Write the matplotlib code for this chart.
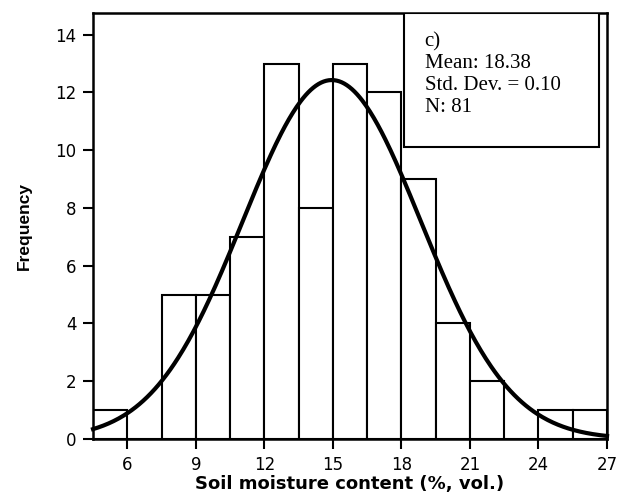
import numpy as np
import matplotlib
matplotlib.use('Agg')
import matplotlib.pyplot as plt
from matplotlib.patches import Rectangle

# histogram bins (soil moisture, % vol.) and counts
bin_edges = [4.5, 6, 7.5, 9, 10.5, 12, 13.5, 15, 16.5, 18, 19.5, 21, 22.5, 24, 25.5, 27]
counts = [1, 0, 5, 5, 7, 13, 8, 13, 12, 9, 4, 2, 0, 1, 1]

# fitted normal curve parameters (estimated from the drawn curve)
curve_mean = 14.95
curve_sd = 3.9
n_obs = 81

x_ticks = [6, 9, 12, 15, 18, 21, 24, 27]
y_ticks = [0, 2, 4, 6, 8, 10, 12, 14]
stats_lines = ["c)", "Mean: 18.38", "Std. Dev. = 0.10", "N: 81"]

plt.rcParams['font.family'] = ['DejaVu Sans']

fig = plt.figure(figsize=(6.21, 4.93), dpi=100)
ax = fig.add_axes([0.1498, 0.1095, 0.8277, 0.8641])

widths = np.diff(bin_edges)
ax.bar(bin_edges[:-1], counts, width=widths, align='edge',
       facecolor='white', edgecolor='black', linewidth=1.5, zorder=2)

bw = widths[0]
xs = np.linspace(bin_edges[0], bin_edges[-1], 400)
ys = n_obs * bw / (curve_sd * np.sqrt(2 * np.pi)) * np.exp(-0.5 * ((xs - curve_mean) / curve_sd) ** 2)
ax.plot(xs, ys, color='black', linewidth=3, zorder=3, clip_on=False)

ax.set_xlim(bin_edges[0], bin_edges[-1])
ax.set_ylim(0, 14.75)
ax.set_xticks(x_ticks)
ax.set_yticks(y_ticks)
ax.tick_params(direction='out', length=7, width=1.5, labelsize=12, pad=5)
for s in ax.spines.values():
    s.set_linewidth(1.8)

ax.set_xlabel("Soil moisture content (%, vol.)", fontsize=13, fontweight='bold', labelpad=1)
ax.set_ylabel("Frequency", fontsize=12.5, fontweight='bold', labelpad=17,
              family=['Liberation Sans Narrow', 'Liberation Sans', 'DejaVu Sans'])

# stats box in the upper right
box = Rectangle((0.605, 0.685), 0.379, 0.315, transform=ax.transAxes,
                facecolor='white', edgecolor='black', linewidth=1.5, zorder=4)
ax.add_patch(box)
for i, line in enumerate(stats_lines):
    ax.text(0.645, 0.9225 - i * 0.0516, line, transform=ax.transAxes,
            fontsize=15, va='baseline', ha='left', zorder=5,
            family=['Liberation Serif', 'DejaVu Serif'])

fig.savefig('out.png', dpi=100)
